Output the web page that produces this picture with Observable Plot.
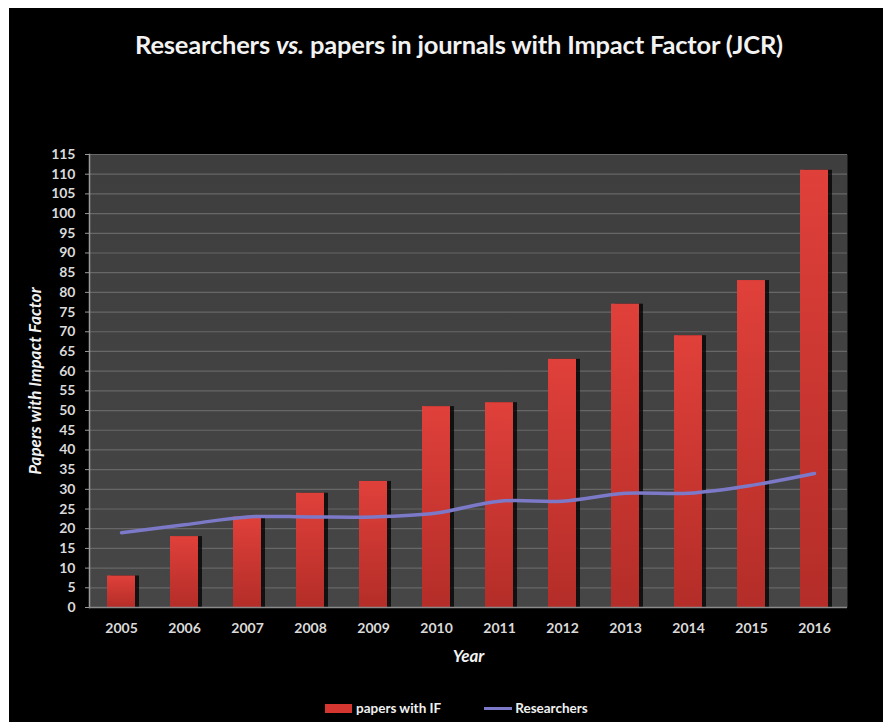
<!DOCTYPE html>
<html>
<head>
<meta charset="utf-8">
<script src="https://cdn.jsdelivr.net/npm/d3@7"></script>
<script src="https://cdn.jsdelivr.net/npm/@observablehq/plot@0.6"></script>
<style>
  html, body { margin: 0; padding: 0; background: #fff; }
  #wrap { position: absolute; left: 9px; top: 8px; width: 874px; height: 714px; background: #000; font-family: Lato, "Open Sans", sans-serif; }
  #title { position: absolute; left: 13px; top: 21px; width: 874px; text-align: center; color: #f2f2f2; font-weight: bold; font-size: 25.5px; letter-spacing: -0.2px; }
  #chart { position: absolute; left: 0; top: 92px; }
  #legend { position: absolute; left: 316px; top: 692px; display: flex; align-items: center; color: #f0f0f0; font-weight: bold; font-size: 13.5px; }
  .sw-bar { width: 27px; height: 9px; background: #d63630; margin-right: 4px; }
  .sw-line { width: 28px; height: 3px; background: #7c79c9; margin-left: 43px; margin-right: 3px; }
</style>
</head>
<body>
<div id="wrap">
  <div id="title">Researchers <i>vs.</i> papers in journals with Impact Factor (JCR)</div>
  <div id="chart"></div>
  <div id="legend"><div class="sw-bar"></div><span>papers with IF</span><div class="sw-line"></div><span>Researchers</span></div>
</div>
<script>
const years = ["2005","2006","2007","2008","2009","2010","2011","2012","2013","2014","2015","2016"];
const papers = [8, 18, 23, 29, 32, 51, 52, 63, 77, 69, 83, 111];
const researchers = [19, 21, 23, 23, 23, 24, 27, 27, 29, 29, 31, 34];
const yTicks = d3.range(0, 116, 5);

const data = years.map((y, i) => ({year: y, papers: papers[i], researchers: researchers[i]}));

const chart = Plot.plot({
  width: 874,
  height: 585,
  marginLeft: 80,
  marginRight: 36,
  marginTop: 54,
  marginBottom: 78,
  style: {background: "#000", color: "#dadada", fontFamily: "Lato, 'Open Sans', sans-serif", fontSize: "14px", fontWeight: "bold", overflow: "visible"},
  x: {type: "band", domain: years, paddingInner: 0.55, paddingOuter: 0.275, label: null},
  y: {domain: [0, 115], label: null},
  marks: [
    Plot.frame({fill: "url(#bgGrad)", stroke: "none"}),
    Plot.gridY(yTicks, {stroke: "#676767", strokeOpacity: 1, strokeWidth: 1.2}),
    Plot.barY(data, {x: "year", y: "papers", fill: "#000", fillOpacity: 0.75, dx: 4}),
    Plot.barY(data, {x: "year", y: "papers", fill: "url(#barGrad)"}),
    Plot.line(data, {x: "year", y: "researchers", stroke: "#7c79c9", strokeWidth: 3.5, curve: "catmull-rom"}),
    Plot.frame({anchor: "left", stroke: "#9a9a9a", strokeWidth: 1.5}),
    Plot.ruleY([0], {stroke: "#8a8a8a", strokeWidth: 1.5}),
    Plot.axisY(yTicks, {tickSize: 4, tickPadding: 10, stroke: "#9a9a9a", fill: "#dadada", fontSize: 14, fontWeight: "bold"}),
    Plot.axisX({tickSize: 0, tickPadding: 16, fill: "#dadada", fontSize: 14, fontWeight: "bold"}),
    Plot.text(["Year"], {frameAnchor: "bottom", dy: 54, fontStyle: "italic", fontWeight: "bold", fontSize: 17, fill: "#f2f2f2"}),
    Plot.text(["Papers with Impact Factor"], {frameAnchor: "left", textAnchor: "middle", dx: -54, rotate: -90, fontStyle: "italic", fontWeight: "bold", fontSize: 17, fill: "#f2f2f2"})
  ]
});

d3.select(chart).insert("defs", ":first-child").html(`
  <linearGradient id="barGrad" x1="0" y1="0" x2="0" y2="1">
    <stop offset="0" stop-color="#e0403a"/>
    <stop offset="1" stop-color="#b42d28"/>
  </linearGradient>
  <linearGradient id="bgGrad" x1="0" y1="0" x2="0" y2="1">
    <stop offset="0" stop-color="#3e3e3e"/>
    <stop offset="1" stop-color="#464646"/>
  </linearGradient>`);

document.getElementById("chart").appendChild(chart);
</script>
</body>
</html>
